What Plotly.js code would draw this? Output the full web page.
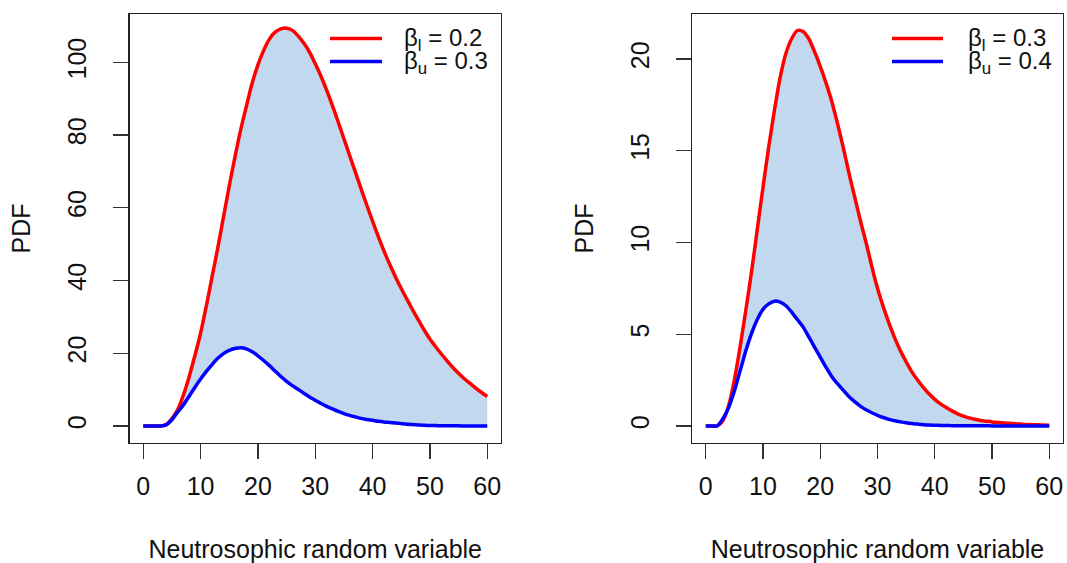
<!DOCTYPE html>
<html>
<head>
<meta charset="utf-8">
<script src="https://cdn.plot.ly/plotly-3.0.1.min.js"></script>
<style>html,body{margin:0;padding:0;background:#fff;}#chart{width:1067px;height:563px;}</style>
</head>
<body>
<div id="chart"></div>
<script>
// ---- data ----
const xVals = [0,1,2,3,4,5,6,7,8,9,10,11,12,13,14,15,16,17,18,19,20,21,22,23,24,25,26,27,28,29,30,31,32,33,34,35,36,37,38,39,40,41,42,43,44,45,46,47,48,49,50,51,52,53,54,55,56,57,58,59,60];

// Left panel: beta_l = 0.2 (red), beta_u = 0.3 (blue)
const leftLower = [0,0,0,0,0.4,2.0,4.5,8.5,13.5,19.3,25.5,33,41,49,57.5,66,74,81.5,88,94.3,99.3,103.3,106.4,108.3,109.2,109.4,108.8,107.3,105.3,102.8,99.6,96.2,92.3,88.1,83.6,79.0,74.4,69.8,65.2,60.7,56.3,52.1,48.1,44.4,41.0,37.8,34.8,31.9,29.1,26.4,23.9,21.8,19.8,17.9,16.1,14.5,13.0,11.7,10.4,9.2,8.1];
const leftUpper = [0,0,0,0,0.3,1.7,3.8,5.8,8.2,10.6,12.9,15.0,16.9,18.6,19.9,20.8,21.3,21.5,21.2,20.4,19.3,18.0,16.6,15.1,13.6,12.3,11.1,10.1,9.0,8.0,7.1,6.2,5.4,4.7,4.0,3.4,2.9,2.5,2.1,1.8,1.55,1.3,1.1,0.95,0.8,0.65,0.5,0.4,0.3,0.2,0.15,0.1,0.08,0.06,0.04,0.03,0.02,0.015,0.01,0.01,0.005];

// Right panel: beta_l = 0.3 (red), beta_u = 0.4 (blue)
const rightLower = [0,0,0,0.3,1.1,2.5,4.3,6.3,8.4,10.7,13,15.2,17.2,19,20.3,21.1,21.55,21.5,21.1,20.4,19.6,18.7,17.7,16.5,15.2,13.8,12.5,11.2,10,8.7,7.5,6.5,5.6,4.8,4.1,3.5,2.95,2.5,2.1,1.75,1.45,1.2,1.0,0.82,0.66,0.54,0.44,0.36,0.3,0.26,0.22,0.19,0.16,0.14,0.12,0.1,0.08,0.07,0.06,0.05,0.04];
const rightUpper = [0,0,0,0.4,1.0,1.9,3.0,4.1,5.05,5.8,6.35,6.65,6.8,6.75,6.55,6.2,5.8,5.4,4.85,4.3,3.75,3.2,2.7,2.3,1.95,1.6,1.32,1.08,0.88,0.72,0.58,0.46,0.36,0.28,0.22,0.17,0.13,0.1,0.07,0.05,0.04,0.03,0.02,0.015,0.01,0.01,0.008,0.006,0.005,0.004,0.003,0.002,0.002,0.001,0.001,0.001,0,0,0,0,0];

const xTicks = [0,10,20,30,40,50,60];
const leftYTicks = [0,20,40,60,80,100];
const rightYTicks = [0,5,10,15,20];
const legendLeft = ["β<sub>l</sub> = 0.2", "β<sub>u</sub> = 0.3"];
const legendRight = ["β<sub>l</sub> = 0.3", "β<sub>u</sub> = 0.4"];
const xTitle = "Neutrosophic random variable";
const yTitle = "PDF";

// ---- styles ----
const RED = "#FF0000", BLUE = "#0000FF", FILL = "#C2D8EF";
const FONT = "Liberation Sans, Arial, sans-serif";
const FS = 25;
const LW = 3.5;

function panel(xa, ya, lower, upper) {
  const ln = (c, w) => ({width: w, color: c, shape: "spline", smoothing: 0.8});
  return [
    {x: xVals, y: upper, xaxis: xa, yaxis: ya, type: "scatter", mode: "lines",
     line: ln(BLUE, 0), showlegend: false, hoverinfo: "skip"},
    {x: xVals, y: lower, xaxis: xa, yaxis: ya, type: "scatter", mode: "lines",
     fill: "tonexty", fillcolor: FILL, line: ln(RED, LW), showlegend: false},
    {x: xVals, y: upper, xaxis: xa, yaxis: ya, type: "scatter", mode: "lines",
     line: ln(BLUE, LW), showlegend: false}
  ];
}

const data = [].concat(panel("x", "y", leftLower, leftUpper), panel("x2", "y2", rightLower, rightUpper));

const W = 1067, H = 563;
const boxTop = 14, boxBot = 443;
const yDom = [1 - boxBot / H, 1 - boxTop / H];

function xAxis(dom, anchor) {
  return {
    domain: dom, anchor: anchor, range: [-2.4, 62.4], tickvals: xTicks, ticktext: xTicks.map(String),
    ticks: "outside", ticklen: 15, tickwidth: 1.3, tickcolor: "#333",
    showline: true, mirror: true, linecolor: "#222", linewidth: 1.3,
    showgrid: false, zeroline: false, tickfont: {family: FONT, size: FS, color: "#111"},
    ticklabelstandoff: 6,
    title: {text: xTitle, font: {family: FONT, size: FS, color: "#111"}, standoff: 42},
    automargin: false, fixedrange: true
  };
}
function yAxis(dom, anchor, range, ticks) {
  return {
    domain: dom, anchor: anchor, range: range, tickvals: ticks, ticktext: ticks.map(String),
    ticks: "outside", ticklen: 15, tickwidth: 1.3, tickcolor: "#333", tickangle: -90,
    showline: true, mirror: true, linecolor: "#222", linewidth: 1.3,
    showgrid: false, zeroline: false, tickfont: {family: FONT, size: FS, color: "#111"},
    ticklabelstandoff: 17,
    title: {text: yTitle, font: {family: FONT, size: FS, color: "#111"}, standoff: 25},
    automargin: false, fixedrange: true
  };
}

function legendItems(lineX0, lineX1, textX, labels) {
  const ys = [38.5, 61.5];
  const shapes = [], anns = [];
  [RED, BLUE].forEach((c, i) => {
    shapes.push({type: "line", xref: "paper", yref: "paper",
      x0: lineX0 / W, x1: lineX1 / W, y0: 1 - ys[i] / H, y1: 1 - ys[i] / H,
      line: {color: c, width: LW}});
    anns.push({xref: "paper", yref: "paper", x: textX / W, y: 1 - (ys[i] + 1) / H,
      xanchor: "left", yanchor: "middle", showarrow: false, text: labels[i],
      font: {family: FONT, size: 24, color: "#111"}});
  });
  return {shapes, anns};
}
const lgL = legendItems(330, 382, 402, legendLeft);
const lgR = legendItems(892, 943, 966, legendRight);

const layout = {
  width: W, height: H, margin: {l: 0, r: 0, t: 0, b: 0},
  paper_bgcolor: "#fff", plot_bgcolor: "#fff", showlegend: false,
  xaxis: xAxis([129.5 / W, 501 / W], "y"),
  yaxis: yAxis(yDom, "x", [-4.68, 113.3], leftYTicks),
  xaxis2: xAxis([692 / W, 1063 / W], "y2"),
  yaxis2: yAxis(yDom, "x2", [-0.93, 22.45], rightYTicks),
  shapes: lgL.shapes.concat(lgR.shapes),
  annotations: lgL.anns.concat(lgR.anns),
  font: {family: FONT}
};

Plotly.newPlot("chart", data, layout, {staticPlot: true, displayModeBar: false});
</script>
</body>
</html>
